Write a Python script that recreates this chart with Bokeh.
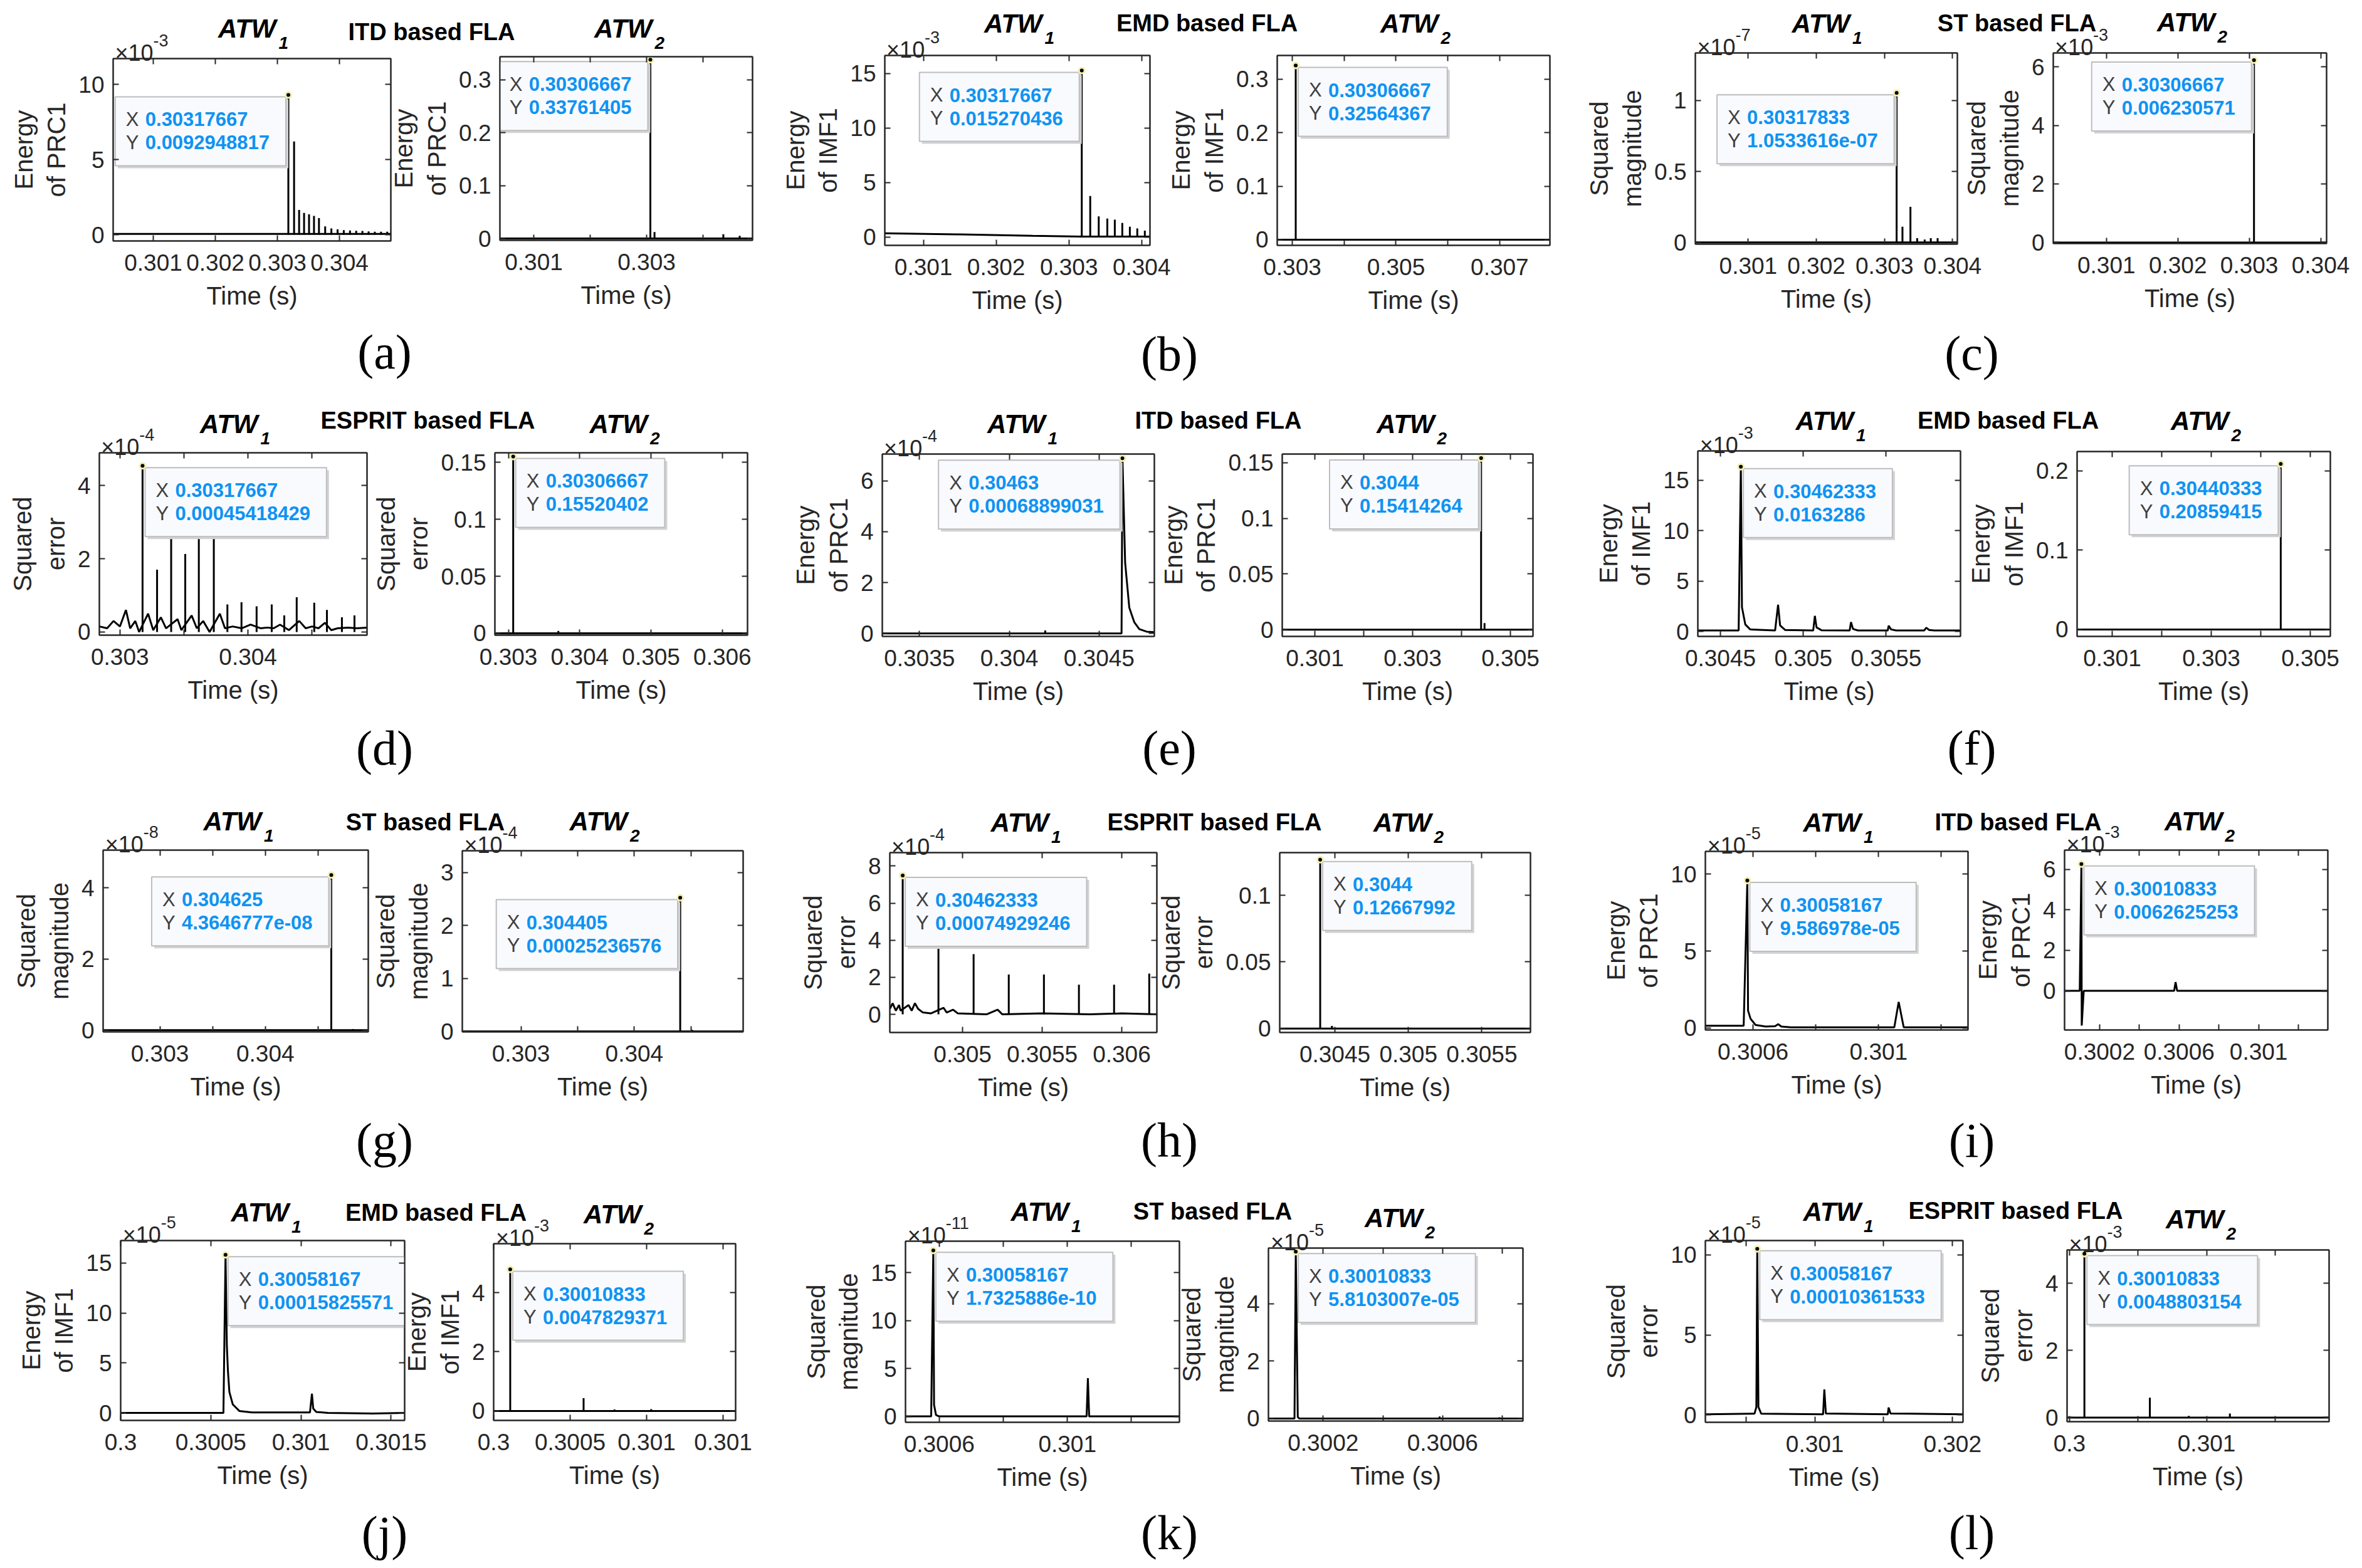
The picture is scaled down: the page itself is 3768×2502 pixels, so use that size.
from bokeh.plotting import figure
from bokeh.models import Range1d, FixedTicker, LinearAxis, Row
from bokeh.embed import file_html
from bokeh.resources import INLINE
from bokeh.core.properties import value

# ============================ DATA ============================
panel_letters = ["(a)", "(b)", "(c)", "(d)", "(e)", "(f)", "(g)", "(h)", "(i)", "(j)", "(k)", "(l)"]
panel_methods = ["ITD based FLA", "EMD based FLA", "ST based FLA", "ESPRIT based FLA",
                 "ITD based FLA", "EMD based FLA", "ST based FLA", "ESPRIT based FLA",
                 "ITD based FLA", "EMD based FLA", "ST based FLA", "ESPRIT based FLA"]
ylabel_by_method = {"ITD": "Energy\nof PRC1", "EMD": "Energy\nof IMF1",
                    "ST": "Squared\nmagnitude", "ESPRIT": "Squared\nerror"}
x_label = "Time (s)"
window_titles = ["ATW", "ATW"]
window_subs = ["1", "2"]

# y values are given in the units shown on each axis (i.e. multiplied by 10^-exp)
# ---- (a) ITD
a1_exp = -3
a1_line_x = [0.30036, 0.30483]
a1_line_y = [0.05, 0.05]
a1_spike_t = [0.30317667, 0.303269, 0.30335, 0.30343, 0.30351, 0.30359, 0.30367, 0.30377, 0.30387,
              0.30397, 0.30407, 0.30417, 0.30427, 0.30437, 0.30447, 0.30457, 0.30467, 0.30477]
a1_spike_h = [9.2948817, 6.2, 1.65, 1.45, 1.35, 1.25, 1.1, 0.55, 0.42,
              0.35, 0.3, 0.28, 0.26, 0.25, 0.22, 0.2, 0.2, 0.2]
a1_tip = ["0.30317667", "0.0092948817"]
a1_xticks = [0.301, 0.302, 0.303, 0.304]
a1_xlabels = ["0.301", "0.302", "0.303", "0.304"]
a1_xminor = []
a1_yticks = [0, 5, 10]

a2_exp = 0
a2_line_x = [0.3004, 0.30488]
a2_line_y = [0, 0]
a2_spike_t = [0.30306667, 0.30314, 0.30436, 0.30465]
a2_spike_h = [0.33761405, 0.012, 0.008, 0.005]
a2_tip = ["0.30306667", "0.33761405"]
a2_xticks = [0.301, 0.303]
a2_xlabels = ["0.301", "0.303"]
a2_xminor = [0.302, 0.304]
a2_yticks = [0, 0.1, 0.2, 0.3]

# ---- (b) EMD
b1_exp = -3
b1_line_x = [0.30047, 0.3015, 0.3025, 0.30316, 0.30412]
b1_line_y = [0.35, 0.25, 0.12, 0.05, 0.05]
b1_spike_t = [0.30317667, 0.303293, 0.30341, 0.303528, 0.303631, 0.303734, 0.303838, 0.30394, 0.304044]
b1_spike_h = [15.270436, 3.77, 1.9, 1.7, 1.6, 1.3, 0.95, 0.8, 0.6]
b1_tip = ["0.30317667", "0.015270436"]
b1_xticks = [0.301, 0.302, 0.303, 0.304]
b1_xlabels = ["0.301", "0.302", "0.303", "0.304"]
b1_xminor = []
b1_yticks = [0, 5, 10, 15]

b2_exp = 0
b2_line_x = [0.30271, 0.30797]
b2_line_y = [0, 0]
b2_spike_t = [0.30306667]
b2_spike_h = [0.32564367]
b2_tip = ["0.30306667", "0.32564367"]
b2_xticks = [0.303, 0.305, 0.307]
b2_xlabels = ["0.303", "0.305", "0.307"]
b2_xminor = [0.304, 0.306]
b2_yticks = [0, 0.1, 0.2, 0.3]

# ---- (c) ST
c1_exp = -7
c1_line_x = [0.30022, 0.30407]
c1_line_y = [0, 0]
c1_spike_t = [0.30317833, 0.303264, 0.303381, 0.30348, 0.30359, 0.30368, 0.30378]
c1_spike_h = [1.0533616, 0.11, 0.25, 0.03, 0.02, 0.03, 0.03]
c1_tip = ["0.30317833", "1.0533616e-07"]
c1_xticks = [0.301, 0.302, 0.303, 0.304]
c1_xlabels = ["0.301", "0.302", "0.303", "0.304"]
c1_xminor = []
c1_yticks = [0, 0.5, 1]

c2_exp = -3
c2_line_x = [0.300255, 0.304083]
c2_line_y = [0, 0]
c2_spike_t = [0.30306667]
c2_spike_h = [6.230571]
c2_tip = ["0.30306667", "0.006230571"]
c2_xticks = [0.301, 0.302, 0.303, 0.304]
c2_xlabels = ["0.301", "0.302", "0.303", "0.304"]
c2_xminor = []
c2_yticks = [0, 2, 4, 6]

# ---- (d) ESPRIT
d1_exp = -4
d1_line_x = [0.30284, 0.3029, 0.30295, 0.303, 0.303047, 0.30308, 0.30312, 0.30315, 0.30322, 0.30326,
             0.30332, 0.30336, 0.30345, 0.30348, 0.30356, 0.3036, 0.30365, 0.3037, 0.30378, 0.30382,
             0.30388, 0.30395, 0.30402, 0.3041, 0.30415, 0.3042, 0.30425, 0.30432, 0.3044, 0.30445,
             0.3045, 0.30455, 0.3046, 0.30465, 0.3047, 0.30478, 0.30485, 0.30493]
d1_line_y = [0.15, 0.1, 0.3, 0.15, 0.6, 0.1, 0.3, 0.0, 0.5, 0.05,
             0.4, 0.1, 0.35, 0.05, 0.45, 0.1, 0.3, 0.0, 0.5, 0.1,
             0.15, 0.1, 0.2, 0.1, 0.12, 0.1, 0.2, 0.05, 0.3, 0.1,
             0.15, 0.1, 0.25, 0.05, 0.1, 0.12, 0.1, 0.12]
d1_spike_t = [0.30317667, 0.30329, 0.3034, 0.30351, 0.303616, 0.303733, 0.303839, 0.303949,
              0.304067, 0.304185, 0.304283, 0.30438, 0.304517, 0.304616, 0.304733, 0.304831]
d1_spike_h = [4.5418429, 1.7, 3.3, 2.13, 3.3, 3.1, 0.75, 0.81,
              0.7, 0.75, 0.45, 0.95, 0.8, 0.6, 0.4, 0.45]
d1_tip = ["0.30317667", "0.00045418429"]
d1_xticks = [0.303, 0.304]
d1_xlabels = ["0.303", "0.304"]
d1_xminor = [0.3035, 0.3045]
d1_yticks = [0, 2, 4]

d2_exp = 0
d2_line_x = [0.30281, 0.30635]
d2_line_y = [0, 0]
d2_spike_t = [0.30306667, 0.3037]
d2_spike_h = [0.15520402, 0.002]
d2_tip = ["0.30306667", "0.15520402"]
d2_xticks = [0.303, 0.304, 0.305, 0.306]
d2_xlabels = ["0.303", "0.304", "0.305", "0.306"]
d2_xminor = []
d2_yticks = [0, 0.05, 0.1, 0.15]

# ---- (e) ITD
e1_exp = -4
e1_line_x = [0.30329, 0.304625, 0.30463, 0.304645, 0.304668, 0.304696, 0.304724, 0.304765, 0.30481]
e1_line_y = [0, 0, 6.8899031, 2.78, 1.02, 0.44, 0.17, 0.07, 0.05]
e1_spike_t = [0.3042]
e1_spike_h = [0.12]
e1_tip = ["0.30463", "0.00068899031"]
e1_xticks = [0.3035, 0.304, 0.3045]
e1_xlabels = ["0.3035", "0.304", "0.3045"]
e1_xminor = []
e1_yticks = [0, 2, 4, 6]

e2_exp = 0
e2_line_x = [0.30033, 0.30546]
e2_line_y = [0, 0]
e2_spike_t = [0.3044, 0.30447]
e2_spike_h = [0.15414264, 0.006]
e2_tip = ["0.3044", "0.15414264"]
e2_xticks = [0.301, 0.303, 0.305]
e2_xlabels = ["0.301", "0.303", "0.305"]
e2_xminor = [0.302, 0.304]
e2_yticks = [0, 0.05, 0.1, 0.15]

# ---- (f) EMD
f1_exp = -3
f1_line_x = [0.304364, 0.30461, 0.30462333, 0.30463, 0.30465, 0.30468, 0.30483, 0.304848, 0.30486,
             0.30489, 0.30506, 0.30507, 0.30508, 0.30511, 0.30528, 0.305288, 0.3053, 0.30533,
             0.30551, 0.305515, 0.30553, 0.30556, 0.30573, 0.305742, 0.30576, 0.30579, 0.30595]
f1_line_y = [0.1, 0.1, 16.3286, 2.4, 0.7, 0.2, 0.1, 2.65, 0.6,
             0.15, 0.1, 1.55, 0.4, 0.12, 0.1, 0.93, 0.25, 0.1,
             0.1, 0.57, 0.2, 0.1, 0.1, 0.37, 0.15, 0.1, 0.1]
f1_spike_t = []
f1_spike_h = []
f1_tip = ["0.30462333", "0.0163286"]
f1_xticks = [0.3045, 0.305, 0.3055]
f1_xlabels = ["0.3045", "0.305", "0.3055"]
f1_xminor = []
f1_yticks = [0, 5, 10, 15]

f2_exp = 0
f2_line_x = [0.30029, 0.3054]
f2_line_y = [0, 0]
f2_spike_t = [0.30440333]
f2_spike_h = [0.20859415]
f2_tip = ["0.30440333", "0.20859415"]
f2_xticks = [0.301, 0.303, 0.305]
f2_xlabels = ["0.301", "0.303", "0.305"]
f2_xminor = [0.302, 0.304]
f2_yticks = [0, 0.1, 0.2]

# ---- (g) ST
g1_exp = -8
g1_line_x = [0.30246, 0.30497]
g1_line_y = [0, 0]
g1_spike_t = [0.304625, 0.30483]
g1_spike_h = [4.3646777, 0.03]
g1_tip = ["0.304625", "4.3646777e-08"]
g1_xticks = [0.303, 0.304]
g1_xlabels = ["0.303", "0.304"]
g1_xminor = [0.3035, 0.3045]
g1_yticks = [0, 2, 4]

g2_exp = -4
g2_line_x = [0.30248, 0.30496]
g2_line_y = [0, 0]
g2_spike_t = [0.304405, 0.30451]
g2_spike_h = [2.5236576, 0.03]
g2_tip = ["0.304405", "0.00025236576"]
g2_xticks = [0.303, 0.304]
g2_xlabels = ["0.303", "0.304"]
g2_xminor = [0.3035, 0.3045]
g2_yticks = [0, 1, 2, 3]

# ---- (h) ESPRIT
h1_exp = -4
h1_line_x = [0.304543, 0.30456, 0.30458, 0.3046, 0.30461, 0.30466, 0.30468, 0.3047, 0.30472, 0.30475,
             0.3048, 0.30488, 0.3049, 0.30494, 0.30497, 0.30515, 0.30522, 0.30525, 0.3055, 0.3058,
             0.306, 0.30622]
h1_line_y = [0.3, 0.6, 0.2, 0.5, 0.2, 0.5, 0.2, 0.6, 0.3, 0.1,
             0.05, 0.35, 0.1, 0.25, 0.05, 0.0, 0.25, 0.0, 0.05, 0.0,
             0.05, 0.0]
h1_spike_t = [0.30462333, 0.304848, 0.305069, 0.30529, 0.305511, 0.305731, 0.305952, 0.306173]
h1_spike_h = [7.4929246, 3.68, 3.25, 2.15, 2.15, 1.6, 1.6, 2.2]
h1_tip = ["0.30462333", "0.00074929246"]
h1_xticks = [0.305, 0.3055, 0.306]
h1_xlabels = ["0.305", "0.3055", "0.306"]
h1_xminor = []
h1_yticks = [0, 2, 4, 6, 8]

h2_exp = 0
h2_line_x = [0.30413, 0.30583]
h2_line_y = [0, 0]
h2_spike_t = [0.3044, 0.30448]
h2_spike_h = [0.12667992, 0.002]
h2_tip = ["0.3044", "0.12667992"]
h2_xticks = [0.3045, 0.305, 0.3055]
h2_xlabels = ["0.3045", "0.305", "0.3055"]
h2_xminor = []
h2_yticks = [0, 0.05, 0.1]

# ---- (i) ITD
i1_exp = -5
i1_line_x = [0.300448, 0.30057, 0.30058167, 0.300584, 0.300592, 0.300608, 0.30064, 0.30067, 0.30068,
             0.30069, 0.30072, 0.30105, 0.301064, 0.30108, 0.301285]
i1_line_y = [0.15, 0.15, 9.586978, 1.13, 0.6, 0.2, 0.1, 0.12, 0.25,
             0.1, 0.05, 0.05, 1.7, 0.05, 0.05]
i1_spike_t = []
i1_spike_h = []
i1_tip = ["0.30058167", "9.586978e-05"]
i1_xticks = [0.3006, 0.301]
i1_xlabels = ["0.3006", "0.301"]
i1_xminor = [0.3008, 0.3012]
i1_yticks = [0, 5, 10]

i2_exp = -3
i2_line_x = [0.300024, 0.3001, 0.30010833, 0.30011, 0.30012, 0.300575, 0.300582, 0.30059, 0.301348]
i2_line_y = [0, 0, 6.2625253, -1.72, 0, 0, 0.43, 0, 0]
i2_spike_t = []
i2_spike_h = []
i2_tip = ["0.30010833", "0.0062625253"]
i2_xticks = [0.3002, 0.3006, 0.301]
i2_xlabels = ["0.3002", "0.3006", "0.301"]
i2_xminor = [0.3004, 0.3008, 0.3012]
i2_yticks = [0, 2, 4, 6]

# ---- (j) EMD
j1_exp = -5
j1_line_x = [0.3, 0.30057, 0.30058167, 0.300589, 0.300595, 0.300603, 0.300622, 0.300658, 0.300728,
             0.30105, 0.301061, 0.301068, 0.301085, 0.30115, 0.3014, 0.301575]
j1_line_y = [0, 0, 15.825571, 6.74, 4.2, 2.1, 0.85, 0.2, 0.05,
             0.05, 1.92, 0.45, 0.1, 0.0, -0.05, 0]
j1_spike_t = []
j1_spike_h = []
j1_tip = ["0.30058167", "0.00015825571"]
j1_xticks = [0.3, 0.3005, 0.301, 0.3015]
j1_xlabels = ["0.3", "0.3005", "0.301", "0.3015"]
j1_xminor = []
j1_yticks = [0, 5, 10, 15]

j2_exp = -3
j2_line_x = [0.3, 0.30158]
j2_line_y = [0, 0]
j2_spike_t = [0.30010833, 0.300588, 0.30079, 0.30103]
j2_spike_h = [4.7829371, 0.43, 0.05, 0.06]
j2_tip = ["0.30010833", "0.0047829371"]
j2_xticks = [0.3, 0.3005, 0.301, 0.3015]
j2_xlabels = ["0.3", "0.3005", "0.301", "0.301"]
j2_xminor = []
j2_yticks = [0, 2, 4]

# ---- (k) ST
k1_exp = -11
k1_line_x = [0.300495, 0.300575, 0.30058167, 0.300584, 0.30059, 0.3006, 0.30106, 0.301064, 0.301068, 0.30135]
k1_line_y = [0, 0, 17.325886, 1.2, 0.15, 0, 0, 4.0, 0, 0]
k1_spike_t = []
k1_spike_h = []
k1_tip = ["0.30058167", "1.7325886e-10"]
k1_xticks = [0.3006, 0.301]
k1_xlabels = ["0.3006", "0.301"]
k1_xminor = [0.3008, 0.3012]
k1_yticks = [0, 5, 10, 15]

k2_exp = -5
k2_line_x = [0.300017, 0.300104, 0.30010833, 0.300115, 0.30012, 0.300869]
k2_line_y = [0, 0, 5.8103007, 0.05, 0, 0]
k2_spike_t = [0.30059, 0.30079]
k2_spike_h = [0.07, 0.04]
k2_tip = ["0.30010833", "5.8103007e-05"]
k2_xticks = [0.3002, 0.3006]
k2_xlabels = ["0.3002", "0.3006"]
k2_xminor = [0.3004, 0.3008]
k2_yticks = [0, 2, 4]

# ---- (l) ESPRIT
l1_exp = -5
l1_line_x = [0.300205, 0.300562, 0.300575, 0.30058167, 0.30059, 0.30061, 0.30106, 0.301069, 0.30108,
             0.30153, 0.301536, 0.30155, 0.302077]
l1_line_y = [0.05, 0.09, 0.5, 10.361533, 0.5, 0.09, 0.05, 1.6, 0.1,
             0.05, 0.47, 0.1, 0.05]
l1_spike_t = []
l1_spike_h = []
l1_tip = ["0.30058167", "0.00010361533"]
l1_xticks = [0.301, 0.302]
l1_xlabels = ["0.301", "0.302"]
l1_xminor = [0.3005, 0.3015]
l1_yticks = [0, 5, 10]

l2_exp = -3
l2_line_x = [0.29998, 0.30189]
l2_line_y = [0, 0]
l2_spike_t = [0.30010833, 0.300586, 0.30087, 0.30117]
l2_spike_h = [4.8803154, 0.59, 0.05, 0.12]
l2_tip = ["0.30010833", "0.0048803154"]
l2_xticks = [0.3, 0.301]
l2_xlabels = ["0.3", "0.301"]
l2_xminor = [0.3005, 0.3015]
l2_yticks = [0, 2, 4]

# ============================ LAYOUT (reference pixel geometry) ============================
K = 1.0                         # reference px -> page px
W_TOTAL, H_TOTAL = 3760, 2494
MT, MB = 30, 160                # identical top/bottom borders for every plot in the row
MR = 45
AXC = "#262626"

KEYS = ["a1", "a2", "b1", "b2", "c1", "c2", "d1", "d2", "e1", "e2", "f1", "f2",
        "g1", "g2", "h1", "h2", "i1", "i2", "j1", "j2", "k1", "k2", "l1", "l2"]

# frame box (l, t, r, b), x calibration (v0, px0, v1, px1), y calibration (v0, py0, v1, py1), tip side
GEOM = {
    "a1": ((180, 93, 623, 384), (0.301, 244, 0.304, 541), (0, 374, 10, 134), "L"),
    "a2": ((797, 90, 1200, 383), (0.301, 851, 0.303, 1031), (0, 380, 0.3, 126.5), "L"),
    "b1": ((1410.6, 87.8, 1834, 390.7), (0.301, 1472.3, 0.304, 1820.7), (0, 377.6, 15, 116.6), "L"),
    "b2": ((2037, 87.8, 2472, 390.7), (0.303, 2061, 0.307, 2391.9), (0, 381.6, 0.3, 125.7), "R"),
    "c1": ((2704, 84.2, 3122, 389.5), (0.301, 2788.4, 0.304, 3114.4), (0, 386.7, 1, 160.1), "L"),
    "c2": ((3274.6, 83.8, 3711, 388.3), (0.301, 3359.5, 0.304, 3701.5), (0, 386.7, 6, 106), "L"),
    "d1": ((157.8, 722, 584.7, 1012.6), (0.303, 190.6, 0.304, 394.9), (0, 1007.5, 4, 774.2), "R"),
    "d2": ((789, 722, 1192, 1012.6), (0.303, 810.6, 0.306, 1151.9), (0, 1009.5, 0.15, 737.4), "R"),
    "e1": ((1406.6, 723.6, 1840.8, 1014.2), (0.3035, 1465.9, 0.3045, 1752.6), (0, 1009.5, 6, 766.3), "L"),
    "e2": ((2045, 723.6, 2445.5, 1014.2), (0.301, 2097, 0.305, 2409.5), (0, 1003.5, 0.15, 737.4), "L"),
    "f1": ((2708.3, 718.9, 3127.2, 1014.6), (0.3045, 2744.3, 0.3055, 3008.6), (0, 1006.7, 15, 765.5), "R"),
    "f2": ((3313, 720, 3717.5, 1014.6), (0.301, 3369, 0.305, 3685.5), (0, 1003.5, 0.2, 750.5), "L"),
    "g1": ((164.2, 1355.5, 587.2, 1646), (0.303, 254.7, 0.304, 423), (0, 1643.3, 4, 1416), "L"),
    "g2": ((737, 1357.4, 1185.5, 1646), (0.303, 830.7, 0.304, 1011.7), (0, 1645.3, 3, 1392.2), "L"),
    "h1": ((1418.6, 1359.8, 1844.8, 1646.5), (0.305, 1534.8, 0.306, 1788.7), (0, 1617.6, 8, 1381.2), "R"),
    "h2": ((2041, 1359.8, 2441.5, 1646.5), (0.3045, 2129.1, 0.3055, 2363.8), (0, 1640.2, 0.1, 1427.8), "R"),
    "i1": ((2720.3, 1357.8, 3139.2, 1642.5), (0.3006, 2796.4, 0.301, 2996.6), (0, 1639.4, 10, 1394.2), "R"),
    "i2": ((3293, 1355.5, 3713.5, 1642.5), (0.3002, 3349, 0.301, 3603), (0, 1580, 6, 1386.3), "R"),
    "j1": ((192.2, 1978.8, 644.8, 2266.2), (0.3, 192.2, 0.3015, 623.2), (0, 2254.3, 15, 2014.8), "R"),
    "j2": ((787.4, 1983.7, 1173.5, 2266.2), (0.3, 787.4, 0.3015, 1153.5), (0, 2251.1, 4, 2061.9), "R"),
    "k1": ((1444.2, 1979.6, 1880.8, 2268.7), (0.3006, 1497.9, 0.301, 1702.2), (0, 2259.3, 15, 2029.9), "R"),
    "k2": ((2023.4, 1991, 2429.5, 2267.5), (0.3002, 2110.7, 0.3006, 2301.3), (0, 2263.4, 4, 2079.9), "R"),
    "l1": ((2720.3, 1978.8, 3131.2, 2268.7), (0.301, 2894.9, 0.302, 3114.4), (0, 2257.2, 10, 2001.3), "R"),
    "l2": ((3297, 1994.3, 3715.2, 2268.7), (0.3, 3301, 0.301, 3519.7), (0, 2262.1, 4, 2047.6), "R"),
}

FLA_POS = [(688, 50), (1925, 36.6), (3217, 36.6), (682, 670.5), (1943, 670.5), (3203, 670.5),
           (678, 1311.3), (1937, 1311), (3219, 1311), (695, 1934.7), (1934, 1932.7), (3215, 1931.7)]
ATW1_POS = [(392, 44.5), (1614, 36.6), (2902.5, 36.6), (363, 676.3), (1619, 676.3), (2908.5, 671.4),
            (368.5, 1310.2), (1624.5, 1312), (2920.5, 1312), (412.5, 1933.7), (1656.5, 1932.7), (2920.5, 1932.7)]
ATW2_POS = [(992, 44.5), (2246, 36.6), (3485, 34.6), (984.4, 676.3), (2240, 676.3), (3507, 671.4),
            (952.4, 1310.2), (2235, 1312), (3497, 1310), (975, 1936.8), (2221, 1943), (3499, 1945)]
LETTER_POS = [(613, 561), (1865, 563.5), (3145, 563), (613, 1193), (1865, 1193), (3145, 1193),
              (613, 1819), (1865, 1819), (3145, 1819), (613, 2445.6), (1865, 2445), (3145, 2445)]

CW = {".": 0.278, "e": 0.556, "-": 0.333}


def em_width(s):
    return sum(CW.get(c, 0.556) for c in s)


def style_axis(ax, labels=True):
    ax.axis_line_color = AXC
    ax.axis_line_width = 2
    ax.major_tick_line_color = AXC
    ax.minor_tick_line_color = AXC
    ax.major_tick_line_width = 2
    ax.minor_tick_line_width = 2
    ax.major_tick_in = 9
    ax.major_tick_out = 0
    ax.minor_tick_in = 9
    ax.minor_tick_out = 0
    if labels:
        ax.major_label_text_font = "Liberation Sans"
        ax.major_label_text_font_size = "37px"
        ax.major_label_text_color = AXC
        ax.axis_label_text_font = "Liberation Sans"
        ax.axis_label_text_font_size = "40px"
        ax.axis_label_text_font_style = "normal"
        ax.axis_label_text_color = AXC


def G(k, name):
    return globals()[k + "_" + name]


def build_subplot(k):
    (fl, ft, fr, fb), (xv0, xp0, xv1, xp1), (yv0, yp0, yv1, yp1), side = GEOM[k]
    pl, pt = int(round(fl * K)), int(round(ft * K))
    fw, fh = int(round((fr - fl) * K)), int(round((fb - ft) * K))
    ML = min(250, pl)
    xs = (xv1 - xv0) / (xp1 - xp0)
    xmin, xmax = xv0 + (fl - xp0) * xs, xv0 + (fr - xp0) * xs
    ys = (yv1 - yv0) / (yp0 - yp1)
    ymin, ymax = yv0 + (yp0 - fb) * ys, yv0 + (yp0 - ft) * ys
    method = panel_methods[KEYS.index(k) // 2].split()[0]

    p = figure(width=ML + fw + MR, height=MT + fh + MB, title=None,
               x_range=Range1d(xmin, xmax), y_range=Range1d(ymin, ymax),
               output_backend="svg", toolbar_location=None,
               min_border_left=ML, min_border_right=MR, min_border_top=MT, min_border_bottom=MB,
               x_axis_label=x_label, y_axis_label=ylabel_by_method[method],
               background_fill_color="white", border_fill_alpha=0.0)
    p.grid.visible = False
    p.outline_line_color = AXC
    p.outline_line_width = 2

    xt, xl, xm, yt = G(k, "xticks"), G(k, "xlabels"), G(k, "xminor"), G(k, "yticks")
    bx, ly = p.below[0], p.left[0]
    bx.ticker = FixedTicker(ticks=xt, minor_ticks=xm)
    ly.ticker = FixedTicker(ticks=yt)
    bx.major_label_overrides = dict(zip(xt, xl))
    ly.major_label_overrides = {v: ("%g" % v) for v in yt}
    style_axis(bx)
    style_axis(ly)
    bx.major_label_standoff = 21
    bx.axis_label_standoff = 15
    ly.major_label_standoff = 14
    ly.axis_label_standoff = 10
    # box ticks on top / right: unlabeled (minor-only) tickers
    top_ax = LinearAxis(ticker=FixedTicker(ticks=[], minor_ticks=list(xt) + list(xm)))
    right_ax = LinearAxis(ticker=FixedTicker(ticks=[], minor_ticks=list(yt)))
    style_axis(top_ax, False)
    style_axis(right_ax, False)
    p.add_layout(top_ax, "above")
    p.add_layout(right_ax, "right")

    # signal
    p.line(G(k, "line_x"), G(k, "line_y"), line_color="black", line_width=3)
    st, sh = G(k, "spike_t"), G(k, "spike_h")
    if st:
        p.segment(x0=st, y0=[0] * len(st), x1=st, y1=sh, line_color="black", line_width=3)

    # data tip
    tip = G(k, "tip")
    exp = G(k, "exp")
    tx = float(tip[0])
    ty = float(tip[1]) / (10.0 ** exp)
    sxp = (xmax - xmin) / fw
    syp = (ymax - ymin) / fh
    bw = (74 + 31 * max(em_width(tip[0]), em_width(tip[1]))) * K
    bh = 110 * K
    gap = 4 * K
    if side == "L":
        right = tx - gap * sxp
        left = right - bw * sxp
    else:
        left = tx + gap * sxp
        right = left + bw * sxp
    top = ty - 3 * K * syp
    bottom = top - bh * syp
    p.quad(left=[left + 4 * sxp], right=[right + 4 * sxp], top=[top - 4 * syp], bottom=[bottom - 4 * syp],
           fill_color="#d3d3d3", line_color=None)
    p.quad(left=[left], right=[right], top=[top], bottom=[bottom],
           fill_color="#f9fafe", line_color="#bdbdbd", line_width=2)
    for j, (lab, val) in enumerate(zip(["X", "Y"], tip)):
        yo = (36 + 37 * j) * K
        p.text(x=[left], y=[top], text=[lab], x_offset=17 * K, y_offset=yo,
               text_font=value("Liberation Sans"), text_font_size=value("31px"),
               text_color="#404040", text_baseline=value("middle"), text_align=value("left"))
        p.text(x=[left], y=[top], text=[val], x_offset=48 * K, y_offset=yo,
               text_font=value("Liberation Sans"), text_font_size=value("31px"),
               text_font_style=value("bold"),
               text_color="#0f93f2", text_baseline=value("middle"), text_align=value("left"))
    p.scatter([tx], [ty], size=9, fill_color="black", line_color="#f3efb0", line_width=3)
    return p, pl - ML, pt - MT


# ---------- text layer: same top/bottom borders as the plots, frame = the whole page ----------
T = figure(width=W_TOTAL, height=H_TOTAL + MT + MB, title=None,
           x_range=Range1d(0, W_TOTAL), y_range=Range1d(H_TOTAL, 0),
           output_backend="svg", toolbar_location=None,
           min_border_left=0, min_border_right=0, min_border_top=MT, min_border_bottom=MB,
           x_axis_location=None, y_axis_location=None, outline_line_color=None,
           background_fill_alpha=0.0, border_fill_alpha=0.0)
T.grid.visible = False


def txt(xs, ys, texts, size, style="normal", align="center", baseline="middle",
        font="Liberation Sans", color="#000000"):
    T.text(x=[x * K for x in xs], y=[y * K for y in ys], text=texts,
           text_font=value(font), text_font_size=value(size), text_font_style=value(style),
           text_align=value(align), text_baseline=value(baseline), text_color=color)


txt([p[0] for p in FLA_POS], [p[1] for p in FLA_POS], panel_methods, "38px", "bold")
for pos, ttl, sub in [(ATW1_POS, window_titles[0], window_subs[0]), (ATW2_POS, window_titles[1], window_subs[1])]:
    txt([p[0] + 48 for p in pos], [p[1] for p in pos], [ttl] * len(pos), "42px", "bold italic", align="right")
    txt([p[0] + 52 for p in pos], [p[1] + 23 for p in pos], [sub] * len(pos), "28px", "bold italic", align="left")
txt([p[0] for p in LETTER_POS], [p[1] for p in LETTER_POS], panel_letters, "78px",
    font="Liberation Serif", color="#000000")

ex_x, ex_y, ex_t, sup_x, sup_y, sup_t = [], [], [], [], [], []
for k in KEYS:
    e = G(k, "exp")
    if e != 0:
        fl, ft = GEOM[k][0][0], GEOM[k][0][1]
        ex_x.append(fl + 3); ex_y.append(ft - 9); ex_t.append("\u00d710")
        sup_x.append(fl + 64); sup_y.append(ft - 29); sup_t.append(str(e))
txt(ex_x, ex_y, ex_t, "36px", align="left", baseline="alphabetic", color=AXC)
txt(sup_x, sup_y, sup_t, "27px", align="left", baseline="alphabetic", color=AXC)

# ---------- absolute placement via margins inside one row ----------
children = []
prev_right = 0
for k in KEYS:
    p, left, top = build_subplot(k)
    p.margin = (top, 0, H_TOTAL - top - p.height, left - prev_right)
    prev_right = left + p.width
    children.append(p)
T.margin = (-MT, 0, -MB, -prev_right)
children.append(T)

layout = Row(children=children, spacing=0)
open("out.html", "w").write(file_html(layout, INLINE, title="FLA comparison"))
